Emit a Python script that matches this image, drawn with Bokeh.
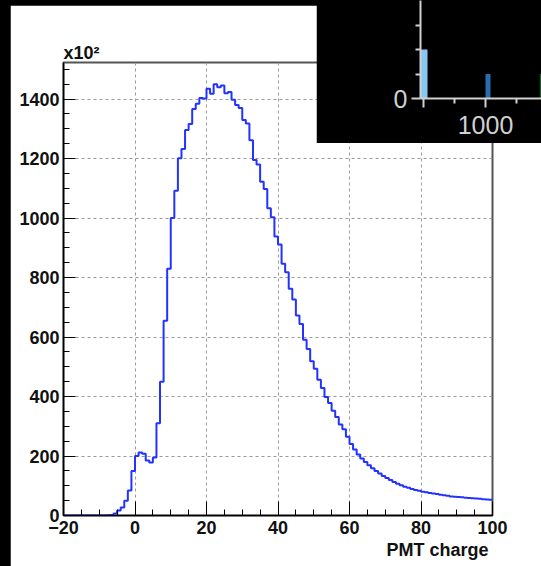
from bokeh.plotting import figure
from bokeh.models import (Range1d, SingleIntervalTicker, FixedTicker, Title, GridBox)
from bokeh.embed import file_html
from bokeh.resources import INLINE

# ---- main histogram data (PMT charge, counts in units of 10^2) ----
bin_low = list(range(-20, 100))  # 1-unit bins from -20 to 100
counts = [
    0, 0, 0, 0, 0, 0, 0, 0, 0, 0, 0, 0, 1,          # -20 .. -8
    2, 7, 17, 27, 50, 84, 150,                        # -7 .. -1
    200, 212, 208, 185, 178, 195, 310, 450, 655, 830, # 0 .. 9
    1000, 1092, 1201, 1232, 1296, 1316, 1367, 1384, 1404, 1402,  # 10 .. 19
    1435, 1418, 1450, 1440, 1446, 1420, 1424, 1398, 1380, 1370,  # 20 .. 29
    1330, 1318, 1262, 1195, 1180, 1122, 1098, 1033, 1003, 938,   # 30 .. 39
    911, 846, 818, 762, 726, 672, 644, 591, 560, 519,            # 40 .. 49
    493, 456, 429, 398, 378, 352, 331, 306, 290, 265,            # 50 .. 59
    240, 222, 205, 192, 180, 169, 159, 150, 141, 133,            # 60 .. 69
    126, 119, 113, 107, 102, 97, 93, 89, 86, 83,                 # 70 .. 79
    80, 78, 76, 74, 72, 70, 68, 66, 64, 63,                      # 80 .. 89
    62, 61, 60, 59, 58, 57, 56, 55, 54, 53,                      # 90 .. 99
]
x_min, x_max = -20, 100
y_min, y_max = 0, 1523
x_title = "PMT charge"
exp_label = "x10\u00b2"

# ---- inset (cropped second chart) data ----
inset_left = [-45, 1000, 1875]
inset_right = [65, 1080, 1955]
inset_top = [2, 1, 1]
inset_colors = ["#86c8f2", "#2b6cae", "#1c5a2a"]
inset_x_range = (-48, 1903)
inset_y_range = (0, 4)

FONT = "Liberation Sans"

# ---------------- main figure ----------------
p = figure(width=531, height=561, output_backend="svg", toolbar_location=None,
           x_range=Range1d(x_min, x_max), y_range=Range1d(y_min, y_max),
           min_border_left=53, min_border_right=49, min_border_top=57,
           min_border_bottom=51)
p.background_fill_color = "white"
p.border_fill_color = "white"
p.outline_line_color = "#555555"
p.outline_line_width = 2

edges = bin_low + [bin_low[-1] + 1]
p.step(x=edges, y=counts + [counts[-1]], mode="after", line_color="#2233ff",
       line_width=2)

for ax in (p.xaxis[0], p.yaxis[0]):
    ax.axis_line_color = "black"
    ax.axis_line_width = 1.5
    ax.major_tick_line_color = "black"
    ax.minor_tick_line_color = "black"
    ax.major_tick_out = 0
    ax.minor_tick_out = 0
    ax.major_label_text_font = FONT
    ax.major_label_text_font_style = "bold"
    ax.major_label_text_font_size = "18px"
    ax.major_label_text_color = "#111111"

p.xaxis[0].ticker = SingleIntervalTicker(interval=20, num_minor_ticks=4)
p.yaxis[0].ticker = SingleIntervalTicker(interval=200, num_minor_ticks=4)
p.xaxis[0].major_tick_in = 14
p.xaxis[0].minor_tick_in = 6
p.yaxis[0].major_tick_in = 12
p.yaxis[0].minor_tick_in = 6
p.xaxis[0].major_label_standoff = 5
p.yaxis[0].major_label_standoff = 4

for g in (p.xgrid[0], p.ygrid[0]):
    g.grid_line_color = "#999999"
    g.grid_line_dash = "3 3"
    g.grid_line_width = 1

p.add_layout(Title(text=x_title, align="right", offset=4, standoff=3,
                   text_font=FONT, text_font_style="bold",
                   text_font_size="18px", text_color="#111111"), "below")
p.add_layout(Title(text=exp_label, align="left", standoff=0,
                   text_font=FONT, text_font_style="bold",
                   text_font_size="18px", text_color="#111111"), "above")

# ---------------- inset figure ----------------
q = figure(width=225, height=143, output_backend="svg", toolbar_location=None,
           x_range=Range1d(*inset_x_range), y_range=Range1d(*inset_y_range),
           min_border_left=104, min_border_right=0, min_border_top=0,
           min_border_bottom=45)
q.background_fill_color = "black"
q.border_fill_color = "black"
q.outline_line_color = None
q.xgrid.visible = False
q.ygrid.visible = False
q.quad(left=inset_left, right=inset_right, bottom=0, top=inset_top,
       fill_color=inset_colors, line_color=None)

for ax in (q.xaxis[0], q.yaxis[0]):
    ax.axis_line_color = "#d0d0d0"
    ax.axis_line_width = 2
    ax.major_tick_line_color = "#d0d0d0"
    ax.minor_tick_line_color = "#d0d0d0"
    ax.major_tick_line_width = 2
    ax.minor_tick_line_width = 2
    ax.major_tick_in = 0
    ax.minor_tick_in = 0
    ax.major_tick_out = 9
    ax.minor_tick_out = 5
    ax.major_label_text_font = FONT
    ax.major_label_text_font_size = "25px"
    ax.major_label_text_color = "#d0d0d0"

q.xaxis[0].ticker = FixedTicker(ticks=[0, 1000], minor_ticks=[500, 1500])
q.xaxis[0].major_label_overrides = {0: ""}
q.xaxis[0].major_label_standoff = 8
q.yaxis[0].ticker = FixedTicker(ticks=[0], minor_ticks=[1, 2, 3])
q.yaxis[0].major_label_standoff = 4

# extra zero-width tracks keep the two plot frames from being aligned
layout = GridBox(children=[(p, 1, 1, 2, 3), (q, 0, 2, 2, 1)],
                 rows=["5px", "138px", "423px"],
                 cols=["10px", "306px", "225px", "0px"], spacing=0,
                 styles={"background-color": "black"})

open("out.html", "w").write(file_html(layout, INLINE))
